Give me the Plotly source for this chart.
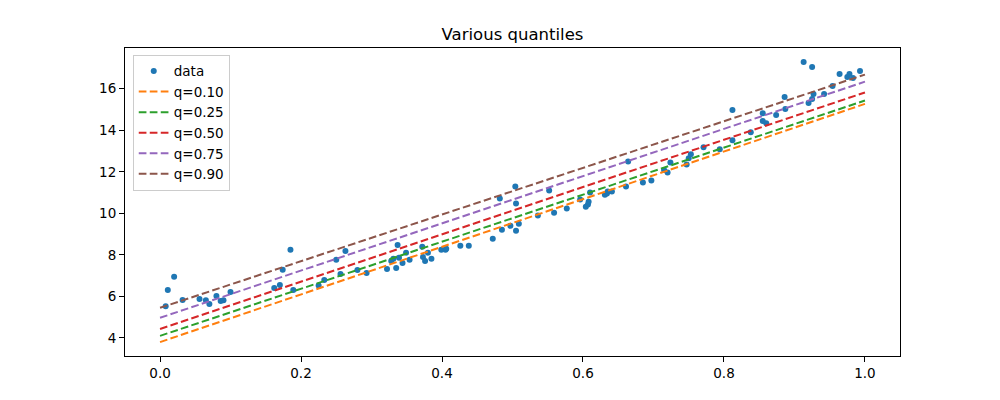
import plotly.graph_objects as go

data_x = [0.008, 0.011, 0.020, 0.032, 0.056, 0.065, 0.070, 0.080, 0.086, 0.090,
          0.100, 0.162, 0.170, 0.174, 0.185, 0.189, 0.225, 0.233, 0.250, 0.256,
          0.263, 0.280, 0.293, 0.322, 0.328, 0.331, 0.335, 0.337, 0.339, 0.344,
          0.349, 0.354, 0.372, 0.373, 0.376, 0.380, 0.385, 0.399, 0.405, 0.406,
          0.426, 0.438, 0.472, 0.482, 0.485, 0.497, 0.504, 0.505, 0.505, 0.509,
          0.536, 0.552, 0.559, 0.577, 0.596, 0.604, 0.607, 0.608, 0.610, 0.631,
          0.634, 0.635, 0.641, 0.661, 0.664, 0.685, 0.697, 0.715, 0.720, 0.724,
          0.747, 0.750, 0.753, 0.771, 0.794, 0.812, 0.812, 0.838, 0.855, 0.855,
          0.860, 0.874, 0.886, 0.887, 0.913, 0.920, 0.925, 0.925, 0.927, 0.942,
          0.954, 0.964, 0.975, 0.978, 0.983, 0.993]
data_y = [5.53, 6.31, 6.94, 5.83, 5.87, 5.82, 5.63, 6.02, 5.78, 5.82,
          6.21, 6.40, 6.55, 7.28, 8.24, 6.31, 6.52, 6.79, 7.76, 7.08,
          8.19, 7.27, 7.13, 7.32, 7.71, 7.81, 7.37, 8.48, 7.86, 7.61,
          8.10, 7.76, 8.39, 7.90, 7.71, 8.10, 7.81, 8.24, 8.24, 8.29,
          8.44, 8.44, 8.77, 10.71, 9.21, 9.40, 11.29, 10.47, 9.16, 9.50,
          9.89, 11.10, 10.03, 10.23, 10.66, 10.32, 10.42, 10.56, 11.00, 10.90,
          10.95, 11.05, 11.05, 11.29, 12.50, 11.48, 11.58, 12.08, 11.97, 12.45,
          12.35, 12.65, 12.84, 13.18, 13.08, 14.97, 13.52, 13.90, 14.82, 14.44,
          14.34, 14.73, 15.60, 15.02, 17.29, 15.31, 17.05, 15.50, 15.74, 15.74,
          16.13, 16.71, 16.56, 16.71, 16.52, 16.85]

quantiles = ["q=0.10", "q=0.25", "q=0.50", "q=0.75", "q=0.90"]
line_x = [0.0, 1.0]
line_start = [3.80, 4.10, 4.43, 4.97, 5.45]
line_end = [15.27, 15.43, 15.82, 16.34, 16.68]

colors = ["#ff7f0e", "#2ca02c", "#d62728", "#9467bd", "#8c564b"]
font_family = "DejaVu Sans"

fig = go.Figure()
fig.add_trace(go.Scatter(
    x=data_x, y=data_y, mode="markers", name="data",
    marker=dict(color="#1f77b4", size=6, line=dict(width=0)),
))
for name, y0, y1, c in zip(quantiles, line_start, line_end, colors):
    fig.add_trace(go.Scatter(
        x=line_x, y=[y0, y1], mode="lines", name=name,
        line=dict(color=c, width=2, dash="7.7px,3.3px"),
    ))

axis_common = dict(
    showgrid=False, zeroline=False, showline=True, linecolor="black",
    linewidth=1, mirror=True, ticks="outside", ticklen=5, tickwidth=1,
    tickcolor="black", tickfont=dict(family=font_family, size=13.5, color="black"),
)
fig.update_layout(
    width=1000, height=400,
    margin=dict(l=117, r=108, t=40, b=52),
    paper_bgcolor="white", plot_bgcolor="white",
    font=dict(family=font_family, color="black"),
    title=dict(text="Various quantiles", x=0.5, xref="paper", xanchor="center",
               y=0.935, yref="container", yanchor="middle",
               font=dict(family=font_family, size=16.5, color="black")),
    xaxis=dict(range=[-0.0497, 1.0497], tickvals=[0, 0.2, 0.4, 0.6, 0.8, 1.0],
               ticktext=["0.0", "0.2", "0.4", "0.6", "0.8", "1.0"], **axis_common),
    yaxis=dict(range=[3.13, 17.96], tickvals=[4, 6, 8, 10, 12, 14, 16], **axis_common),
    legend=dict(x=0.01, y=0.978, xanchor="left", yanchor="top",
                bgcolor="rgba(255,255,255,0.8)", bordercolor="#cccccc", borderwidth=1,
                font=dict(family=font_family, size=13.5, color="black"),
                itemwidth=30, tracegroupgap=0),
    showlegend=True,
)

fig.write_html("out.html")
